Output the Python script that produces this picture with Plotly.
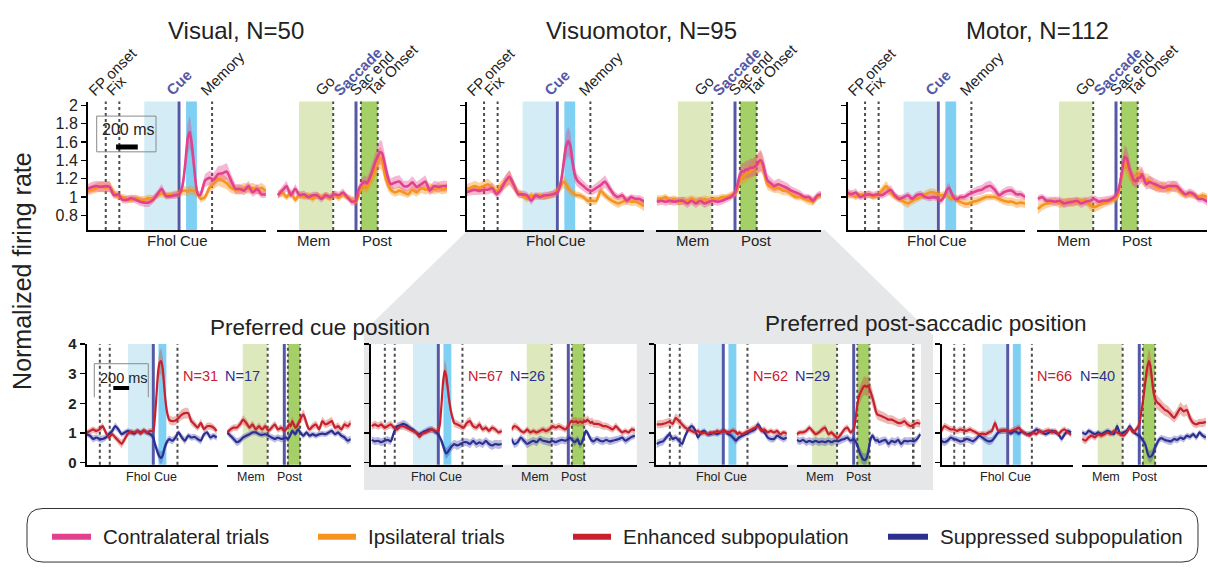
import plotly.graph_objects as go

W, H = 1208, 570
FONT = "Liberation Sans, Arial, Helvetica, sans-serif"

# ---------------- data ----------------
# time grids (ms) for cue-aligned and saccade-aligned windows
cue_t = list(range(-840, 0, 40)) + list(range(0, 201, 20)) + list(range(240, 801, 40))
sac_t = list(range(-720, 0, 40)) + list(range(0, 321, 20)) + list(range(360, 841, 40))

# --- top row: normalized firing rate, contralateral / ipsilateral ---
vis_cue_contra = [1.09, 1.11, 1.12, 1.11, 1.12, 1.11, 1.02, 1.03, 0.97, 0.97, 0.99, 0.97, 0.95, 0.94, 0.94, 0.97, 1.03, 1.09, 1.01, 1.01, 1.02,
                  1.03, 1.07, 1.18, 1.39, 1.64, 1.71, 1.56, 1.32, 1.10, 1.02, 1.03,
                  1.18, 1.21, 1.19, 1.25, 1.26, 1.28, 1.18, 1.09, 1.09, 1.07, 1.12, 1.05, 1.09, 1.03, 1.03]
vis_cue_ipsi = [1.07, 1.08, 1.10, 1.12, 1.10, 1.12, 1.05, 1.00, 1.00, 0.98, 0.97, 0.99, 0.97, 0.97, 0.99, 0.98, 1.02, 1.04, 1.02, 1.02, 1.03,
                1.04, 1.06, 1.07, 1.07, 1.06, 1.08, 1.07, 1.07, 1.05, 1.02, 0.98,
                1.00, 1.10, 1.15, 1.20, 1.18, 1.15, 1.10, 1.08, 1.08, 1.10, 1.09, 1.10, 1.08, 1.10, 1.07]
vis_sac_contra = [1.02, 1.07, 1.12, 1.02, 1.09, 1.02, 1.03, 1.00, 1.02, 1.02, 0.98, 1.02, 1.00, 1.03, 1.02, 1.05, 1.00, 0.95,
                  0.96, 1.07, 1.12, 1.15, 1.17, 1.15, 1.19, 1.25, 1.32, 1.39, 1.44, 1.49, 1.48, 1.39, 1.28, 1.19, 1.14,
                  1.16, 1.17, 1.12, 1.12, 1.16, 1.11, 1.14, 1.17, 1.07, 1.12, 1.11, 1.12, 1.12]
vis_sac_ipsi = [1.03, 1.05, 1.00, 1.05, 0.97, 1.03, 1.00, 1.02, 0.98, 1.02, 1.00, 1.02, 0.99, 1.03, 0.99, 1.03, 1.00, 0.97,
                0.95, 1.00, 1.08, 1.12, 1.12, 1.10, 1.15, 1.20, 1.25, 1.32, 1.38, 1.43, 1.40, 1.28, 1.18, 1.12, 1.08,
                1.05, 1.07, 1.05, 1.03, 1.08, 1.05, 1.10, 1.08, 1.10, 1.08, 1.10, 1.08, 1.10]

vm_cue_contra = [1.05, 1.07, 1.08, 1.07, 1.08, 1.08, 1.10, 1.03, 1.08, 1.17, 1.22, 1.13, 1.03, 1.03, 1.02, 0.96, 1.02, 1.00, 1.02, 1.02, 1.03,
                 1.05, 1.10, 1.21, 1.39, 1.55, 1.61, 1.56, 1.39, 1.25, 1.19, 1.16,
                 1.12, 1.08, 1.07, 1.10, 1.13, 1.17, 1.10, 1.03, 1.00, 1.02, 0.96, 1.00, 0.98, 0.98, 0.95]
vm_cue_ipsi = [1.09, 1.10, 1.12, 1.10, 1.12, 1.14, 1.10, 1.07, 1.12, 1.16, 1.21, 1.12, 1.05, 1.02, 0.98, 1.02, 1.00, 1.02, 1.00, 1.02, 1.03,
               1.07, 1.10, 1.14, 1.17, 1.14, 1.10, 1.07, 1.05, 1.03, 1.02, 1.02,
               1.00, 0.96, 0.96, 0.96, 1.07, 1.02, 0.98, 0.95, 0.93, 0.95, 0.96, 0.95, 0.95, 0.93, 0.90]
vm_sac_contra = [0.95, 0.96, 0.95, 0.96, 0.95, 0.96, 0.96, 0.93, 0.96, 0.93, 0.96, 0.93, 0.95, 0.96, 0.95, 0.96, 0.98, 1.00,
                 1.05, 1.12, 1.22, 1.28, 1.28, 1.30, 1.30, 1.32, 1.32, 1.33, 1.35, 1.39, 1.40, 1.35, 1.25, 1.18, 1.16,
                 1.12, 1.14, 1.12, 1.10, 1.07, 1.05, 1.03, 1.00, 1.00, 0.96, 1.02, 1.03, 1.05]
vm_sac_ipsi = [0.98, 0.98, 1.00, 0.96, 0.98, 0.95, 0.96, 0.96, 0.98, 0.96, 0.96, 0.98, 0.96, 0.98, 0.98, 1.00, 1.00, 1.02,
               1.03, 1.07, 1.17, 1.21, 1.22, 1.25, 1.26, 1.28, 1.30, 1.32, 1.35, 1.37, 1.39, 1.32, 1.21, 1.14, 1.12,
               1.10, 1.10, 1.07, 1.07, 1.03, 1.00, 1.00, 0.98, 0.96, 0.95, 1.00, 1.03, 1.05]

mot_cue_contra = [1.05, 1.03, 1.05, 1.00, 1.02, 1.03, 1.02, 1.03, 1.02, 1.05, 1.08, 1.02, 0.98, 1.00, 1.02, 0.98, 1.02, 1.03, 1.00, 0.99, 1.00,
                  0.98, 0.96, 0.98, 1.02, 1.08, 1.10, 1.05, 1.00, 0.98, 0.98, 1.00,
                  1.00, 1.03, 1.05, 1.07, 1.08, 1.11, 1.12, 1.08, 1.02, 1.05, 1.07, 1.07, 1.03, 1.03, 1.00]
mot_cue_ipsi = [1.02, 1.03, 1.00, 1.03, 1.02, 1.03, 1.00, 1.02, 1.07, 1.12, 1.05, 1.00, 0.98, 0.95, 0.93, 0.96, 0.98, 1.00, 1.03, 1.05, 1.05,
                1.03, 1.02, 1.02, 1.03, 1.02, 1.00, 0.98, 1.00, 0.99, 0.96, 0.95,
                0.93, 0.93, 0.95, 0.96, 0.98, 1.00, 1.00, 1.00, 0.98, 0.96, 0.95, 0.95, 0.93, 0.94, 0.93]
mot_sac_contra = [0.98, 1.00, 0.96, 0.96, 0.95, 0.96, 0.93, 0.94, 0.95, 0.96, 0.93, 0.95, 0.96, 0.98, 0.95, 0.96, 0.96, 0.98,
                  1.02, 1.07, 1.17, 1.32, 1.44, 1.42, 1.32, 1.25, 1.19, 1.17, 1.21, 1.21, 1.25, 1.19, 1.14, 1.16, 1.16,
                  1.14, 1.12, 1.10, 1.12, 1.12, 1.12, 1.07, 1.03, 1.05, 1.03, 0.98, 0.98, 0.95]
mot_sac_ipsi = [0.87, 0.91, 0.93, 0.94, 0.95, 0.93, 0.94, 0.95, 0.94, 0.95, 0.96, 0.96, 0.91, 0.89, 0.91, 0.93, 0.95, 0.96,
                0.98, 1.02, 1.14, 1.28, 1.39, 1.35, 1.28, 1.22, 1.19, 1.21, 1.24, 1.26, 1.22, 1.18, 1.19, 1.18, 1.16,
                1.12, 1.10, 1.12, 1.08, 1.12, 1.10, 1.05, 1.02, 1.03, 1.02, 1.00, 1.02, 1.00]

# --- bottom row: enhanced / suppressed subpopulations ---
b1_cue_enh = [1.02, 1.07, 1.12, 1.07, 1.12, 1.23, 1.02, 0.85, 0.96, 0.85, 0.74, 0.63, 0.80, 0.98, 1.05, 1.02, 1.07, 0.98, 1.09, 1.02, 1.07,
              1.07, 1.50, 2.27, 3.04, 3.37, 3.42, 3.15, 2.49, 1.95, 1.62, 1.45,
              1.40, 1.42, 1.51, 1.62, 1.67, 1.67, 1.40, 1.29, 1.18, 1.34, 1.13, 1.23, 1.23, 1.18, 1.07]
b1_cue_sup = [0.96, 0.91, 0.80, 0.85, 0.80, 0.80, 0.85, 0.96, 1.07, 1.23, 1.12, 0.96, 1.02, 1.07, 1.02, 0.98, 1.07, 1.02, 1.07, 1.02, 0.96,
              0.85, 0.63, 0.47, 0.31, 0.20, 0.16, 0.25, 0.47, 0.63, 0.74, 0.80,
              0.74, 0.85, 1.02, 0.85, 0.74, 0.91, 0.85, 0.87, 0.80, 0.74, 0.96, 1.02, 0.85, 0.91, 0.85]
b1_sac_enh = [1.02, 1.12, 1.18, 1.18, 1.29, 1.45, 1.34, 1.18, 1.29, 1.12, 1.23, 1.12, 1.23, 1.07, 1.18, 1.29, 1.12, 1.18,
              1.07, 1.12, 1.18, 1.29, 1.23, 1.40, 1.29, 1.18, 1.23, 1.34, 1.45, 1.56, 1.62, 1.51, 1.34, 1.18, 1.12,
              1.23, 1.29, 1.12, 1.40, 1.29, 1.34, 1.40, 1.18, 1.23, 1.12, 1.29, 1.23, 1.34]
b1_sac_sup = [1.02, 0.91, 0.80, 0.69, 0.74, 0.85, 0.91, 0.96, 1.02, 1.02, 0.96, 0.94, 0.96, 0.91, 0.85, 0.80, 0.85, 0.80,
              0.83, 0.85, 0.80, 0.85, 0.96, 1.07, 1.02, 0.96, 1.07, 1.12, 1.02, 0.96, 0.91, 0.96, 1.02, 0.96, 0.91,
              0.96, 0.91, 0.96, 0.98, 0.96, 1.02, 1.07, 0.96, 1.02, 0.91, 0.85, 0.74, 0.80]

b2_cue_enh = [1.23, 1.29, 1.23, 1.29, 1.18, 1.23, 1.29, 1.18, 1.12, 1.23, 1.23, 1.18, 1.12, 1.07, 1.02, 0.87, 0.98, 1.02, 1.07, 1.12, 1.07,
              1.07, 1.29, 1.95, 2.71, 3.09, 2.93, 2.49, 2.05, 1.73, 1.51, 1.34,
              1.29, 1.23, 1.18, 1.34, 1.40, 1.23, 1.18, 1.29, 1.12, 1.18, 1.07, 1.18, 1.12, 1.02, 1.07]
b2_cue_sup = [0.77, 0.72, 0.74, 0.69, 0.74, 0.77, 0.72, 1.02, 1.23, 1.26, 1.31, 1.26, 1.18, 1.12, 1.02, 0.96, 1.02, 1.07, 1.12, 1.12, 1.05,
              0.96, 0.85, 0.74, 0.58, 0.42, 0.31, 0.36, 0.44, 0.52, 0.58, 0.63,
              0.58, 0.63, 0.69, 0.69, 0.63, 0.74, 0.63, 0.69, 0.63, 0.74, 0.63, 0.58, 0.63, 0.61, 0.63]
b2_sac_enh = [1.12, 1.23, 1.18, 1.07, 1.02, 1.12, 1.02, 1.07, 1.02, 1.07, 1.12, 1.07, 1.12, 1.23, 1.18, 1.23, 1.18, 1.12,
              1.23, 1.34, 1.40, 1.38, 1.38, 1.40, 1.34, 1.38, 1.38, 1.34, 1.42, 1.38, 1.45, 1.40, 1.34, 1.38, 1.31,
              1.31, 1.29, 1.23, 1.23, 1.18, 1.12, 1.23, 1.12, 1.02, 1.07, 1.02, 1.12, 1.09]
b2_sac_sup = [0.80, 0.63, 0.69, 0.85, 0.74, 0.63, 0.69, 0.74, 0.69, 0.80, 0.74, 0.72, 0.69, 0.74, 0.69, 0.74, 0.77, 0.74,
              0.80, 0.85, 0.80, 0.74, 0.69, 0.74, 0.80, 0.63, 0.63, 0.74, 0.91, 1.07, 1.02, 0.91, 0.80, 0.74, 0.72,
              0.80, 0.74, 0.72, 0.77, 0.72, 0.74, 0.77, 0.80, 0.85, 0.74, 0.80, 0.87, 0.91]

b3_cue_enh = [1.29, 1.29, 1.31, 1.34, 1.38, 1.31, 1.51, 1.40, 1.29, 1.18, 1.12, 1.07, 1.02, 1.07, 0.98, 1.02, 0.96, 1.02, 0.98, 1.07, 1.02,
              1.07, 1.07, 1.02, 1.05, 1.02, 1.07, 1.09, 1.07, 1.04, 0.96, 1.02,
              0.96, 1.02, 1.07, 1.12, 1.18, 1.23, 1.07, 1.12, 1.02, 1.07, 1.02, 1.07, 0.96, 1.02, 0.98]
b3_cue_sup = [0.63, 0.69, 0.72, 0.85, 0.96, 0.80, 0.85, 0.74, 0.63, 0.91, 1.12, 1.23, 1.12, 0.85, 1.02, 1.07, 0.96, 0.96, 1.02, 0.96, 1.02,
              1.09, 1.07, 1.02, 0.96, 0.94, 0.91, 0.85, 0.80, 0.74, 0.80, 0.85,
              0.91, 0.96, 1.02, 1.07, 1.12, 1.29, 1.12, 1.02, 0.85, 0.80, 0.80, 0.91, 0.85, 0.80, 0.85]
b3_sac_enh = [0.96, 1.02, 1.02, 1.07, 1.18, 1.07, 0.96, 1.02, 1.12, 1.18, 0.96, 1.02, 0.91, 0.85, 0.96, 1.12, 1.18, 1.02,
              1.12, 1.40, 1.84, 2.16, 2.33, 2.44, 2.55, 2.60, 2.55, 2.60, 2.49, 2.33, 2.16, 1.95, 1.73, 1.62, 1.60,
              1.56, 1.51, 1.45, 1.45, 1.40, 1.34, 1.34, 1.40, 1.29, 1.23, 1.29, 1.34, 1.31]
b3_sac_sup = [0.77, 0.72, 0.77, 0.69, 0.74, 0.69, 0.74, 0.69, 0.72, 0.69, 0.74, 0.69, 0.74, 0.72, 0.77, 0.80, 0.85, 0.74,
              0.80, 0.74, 0.63, 0.47, 0.31, 0.20, 0.11, 0.09, 0.14, 0.31, 0.63, 0.85, 0.91, 0.80, 0.74, 0.77, 0.69,
              0.74, 0.77, 0.63, 0.74, 0.69, 0.77, 0.63, 0.74, 0.72, 0.74, 0.72, 0.80, 0.96]

b4_cue_enh = [1.07, 1.23, 1.18, 1.12, 1.12, 1.07, 1.12, 1.09, 1.07, 1.12, 1.07, 1.02, 0.96, 0.98, 0.96, 1.02, 1.07, 1.34, 1.07, 1.09, 1.07,
              1.07, 1.05, 1.07, 1.09, 1.11, 1.12, 1.16, 1.18, 1.12, 1.07, 1.02,
              0.96, 0.91, 1.02, 0.96, 1.07, 1.02, 1.07, 1.09, 1.02, 1.07, 0.96, 1.07, 1.12, 1.02, 0.94]
b4_cue_sup = [0.74, 0.69, 0.74, 0.85, 0.80, 0.77, 0.72, 0.74, 0.80, 0.77, 0.72, 0.80, 0.91, 0.85, 0.77, 0.72, 0.74, 0.87, 1.02, 1.07, 1.09,
              1.07, 1.02, 0.98, 1.02, 1.07, 1.05, 1.02, 0.98, 1.02, 1.05, 1.02,
              0.96, 0.98, 1.02, 1.12, 1.07, 1.02, 0.96, 1.02, 1.07, 1.02, 0.96, 0.80, 0.96, 1.07, 1.02]
b4_sac_enh = [0.80, 0.74, 0.85, 0.91, 0.85, 0.96, 0.91, 0.96, 1.02, 0.96, 1.07, 1.02, 0.96, 0.91, 1.02, 1.18, 1.02, 1.12,
              1.29, 1.62, 1.95, 2.38, 2.82, 3.20, 3.42, 3.25, 2.82, 2.38, 2.16, 2.05, 2.00, 1.95, 1.89, 1.84, 1.78,
              1.73, 1.62, 1.51, 1.67, 1.84, 1.73, 1.78, 1.51, 1.34, 1.29, 1.34, 1.34, 1.38]
b4_sac_sup = [1.02, 0.96, 1.07, 1.02, 0.96, 1.02, 0.96, 1.02, 1.07, 1.02, 0.96, 1.23, 0.96, 1.02, 1.07, 1.23, 1.07, 0.96,
              0.91, 0.85, 0.77, 0.69, 0.58, 0.36, 0.22, 0.20, 0.25, 0.36, 0.52, 0.63, 0.74, 0.80, 0.83, 0.80, 0.77,
              0.74, 0.72, 0.80, 0.77, 0.85, 0.80, 0.91, 0.87, 0.96, 0.85, 1.02, 0.91, 0.85]

# labels
top_titles = ["Visual, N=50", "Visuomotor, N=95", "Motor, N=112"]
bottom_titles = ["Preferred cue position", "Preferred post-saccadic position"]
n_enh = ["N=31", "N=67", "N=62", "N=66"]
n_sup = ["N=17", "N=26", "N=29", "N=40"]
legend_labels = ["Contralateral trials", "Ipsilateral trials", "Enhanced subpopulation", "Suppressed subpopulation"]
top_yticks = [0.8, 1, 1.2, 1.4, 1.6, 1.8, 2]
top_yticklabels = ["0.8", "1", "1.2", "1.4", "1.6", "1.8", "2"]
bot_yticks = [0, 1, 2, 3, 4]
bot_yticklabels = ["<b>0</b>", "<b>1</b>", "<b>2</b>", "<b>3</b>", "<b>4</b>"]
cue_labels = ["FP onset", "Fix", "Cue", "Memory"]
sac_labels = ["Go", "Saccade", "Sac end", "Tar Onset"]

# task events (ms)
FP_ONSET, FIX, CUE, MEMORY = -675, -550, 0, 305
FHOL_WIN, CUE_WIN = (-320, -20), (65, 165)
GO, SACCADE, SAC_END, TAR_ONSET = -210, 0, 45, 200
MEM_WIN = (-525, -215)
EXTRA_B3 = 752

# ---------------- styling ----------------
C_CONTRA, C_IPSI = "#e2418e", "#f7941d"
C_ENH, C_SUP = "#c8202f", "#2b3090"
B_CONTRA, B_IPSI = "rgba(226,65,142,0.38)", "rgba(247,148,29,0.42)"
B_ENH, B_SUP = "rgba(205,70,60,0.38)", "rgba(60,60,170,0.35)"
EVT = "#5558a6"
LBLUE, CBLUE = "#d3ecf6", "#7fd0f3"
LGREEN, PGREEN = "#dde9bd", "#a5cf67"
DOT = "#4d4d4d"
TXT = "#222222"

fig = go.Figure()
layout = {}
shapes = []
ann = []

TOP_S, BOT_S = 0.1085, 0.0792          # px per ms
TOP_Y = (95, 227)
BOT_Y = (344, 468)
top_cue_px = [(88, 266, 179), (467, 644, 557.3), (848, 1025, 938.3)]
top_sac_px = [(277, 447, 356), (656, 821, 735), (1037, 1207, 1116)]
bot_cue_px = [(86.7, 218.3, 153.3), (371, 503.3, 438.3), (656, 788.3, 723.3), (941.7, 1073.3, 1007.7)]
bot_sac_px = [(226.7, 350.7, 284.3), (511.7, 636.7, 568.3), (796.7, 921, 853.7), (1081.7, 1206.7, 1139.3)]


def refs(k):
    return ("x" if k == 1 else f"x{k}"), ("y" if k == 1 else f"y{k}")


def make_axes(k, geo, s, ypx, yrange, yline, ticktext=None, tickfont=None, tickvals=None):
    l, r, e = geo
    name = "" if k == 1 else str(k)
    layout["xaxis" + name] = dict(domain=[l / W, r / W], range=[(l - e) / s, (r - e) / s], anchor=refs(k)[1],
                                  showline=True, linecolor="black", linewidth=2, ticks="", showticklabels=False,
                                  showgrid=False, zeroline=False, fixedrange=True)
    ya = dict(domain=[1 - ypx[1] / H, 1 - ypx[0] / H], range=yrange, anchor=refs(k)[0], showgrid=False,
              zeroline=False, fixedrange=True, showline=yline, linecolor="black", linewidth=2)
    if yline:
        ya.update(ticks="outside", ticklen=5, tickwidth=1.5, tickcolor="black", tickvals=tickvals)
        if ticktext:
            ya.update(ticktext=ticktext, showticklabels=True, tickfont=tickfont)
        else:
            ya.update(showticklabels=False)
    else:
        ya.update(showticklabels=False, ticks="")
    layout["yaxis" + name] = ya


def rect(k, a, b, color):
    xr, yr = refs(k)
    shapes.append(dict(type="rect", xref=xr, yref=yr + " domain", x0=a, x1=b, y0=0, y1=1,
                       fillcolor=color, line=dict(width=0), layer="below"))


def vline(k, t, color, width, dash):
    xr, yr = refs(k)
    shapes.append(dict(type="line", xref=xr, yref=yr + " domain", x0=t, x1=t, y0=0, y1=1,
                       line=dict(color=color, width=width, dash=dash), layer="below"))


def cue_events(k):
    rect(k, FHOL_WIN[0], FHOL_WIN[1], LBLUE)
    rect(k, CUE_WIN[0], CUE_WIN[1], CBLUE)
    for t in (FP_ONSET, FIX, MEMORY):
        vline(k, t, DOT, 2, "dot")
    vline(k, CUE, EVT, 3, "solid")


def sac_events(k):
    rect(k, MEM_WIN[0], MEM_WIN[1], LGREEN)
    rect(k, SAC_END, TAR_ONSET, PGREEN)
    for t in (GO, SAC_END, TAR_ONSET):
        vline(k, t, DOT, 2, "dot")
    vline(k, SACCADE, EVT, 3, "solid")


def band(k, t, v, fill, base, frac):
    xr, yr = refs(k)
    up = [a + base + frac * abs(a - 1) for a in v]
    lo = [a - base - frac * abs(a - 1) for a in v]
    fig.add_trace(go.Scatter(x=t + t[::-1], y=up + lo[::-1], fill="toself", fillcolor=fill,
                             line=dict(width=0), mode="lines", hoverinfo="skip", showlegend=False,
                             xaxis=xr, yaxis=yr))


def curve(k, t, v, color, lw):
    xr, yr = refs(k)
    fig.add_trace(go.Scatter(x=t, y=v, mode="lines", line=dict(color=color, width=lw, shape="spline", smoothing=0.5),
                             hoverinfo="skip", showlegend=False, xaxis=xr, yaxis=yr))


def pair(k, t, v1, v2, c1, c2, b1, b2, base, frac, lw):
    band(k, t, v2, b2, base, frac)
    band(k, t, v1, b1, base, frac)
    curve(k, t, v2, c2, lw)
    curve(k, t, v1, c1, lw)


top_data = [(vis_cue_contra, vis_cue_ipsi, vis_sac_contra, vis_sac_ipsi),
            (vm_cue_contra, vm_cue_ipsi, vm_sac_contra, vm_sac_ipsi),
            (mot_cue_contra, mot_cue_ipsi, mot_sac_contra, mot_sac_ipsi)]
bot_data = [(b1_cue_enh, b1_cue_sup, b1_sac_enh, b1_sac_sup),
            (b2_cue_enh, b2_cue_sup, b2_sac_enh, b2_sac_sup),
            (b3_cue_enh, b3_cue_sup, b3_sac_enh, b3_sac_sup),
            (b4_cue_enh, b4_cue_sup, b4_sac_enh, b4_sac_sup)]

# ---------------- background gray trapezoid ----------------
def P(x, y):
    return f"{x / W:.5f},{1 - y / H:.5f}"

shapes.append(dict(type="path", xref="paper", yref="paper", layer="below",
                   path=f"M {P(468,227)} L {P(825,227)} L {P(933,335)} L {P(933,494)} L {P(364,494)} L {P(364,331)} Z",
                   fillcolor="#e6e7e9", line=dict(width=0)))
for (l, _, _), (_, r, _) in [(bot_cue_px[1], bot_sac_px[1]), (bot_cue_px[2], bot_sac_px[2])]:
    shapes.append(dict(type="rect", xref="paper", yref="paper", layer="below",
                       x0=l / W, x1=r / W, y0=1 - BOT_Y[1] / H, y1=1 - BOT_Y[0] / H,
                       fillcolor="white", line=dict(width=0)))

k = 0
top_cue_keys = []
top_sac_keys = []
# ---------------- top row ----------------
for i in range(3):
    cc, ci, sc, si = top_data[i]
    k += 1
    make_axes(k, top_cue_px[i], TOP_S, TOP_Y, [0.641, 2.042], True,
              ticktext=top_yticklabels if i == 0 else None, tickvals=top_yticks,
              tickfont=dict(size=16, color=TXT, family=FONT))
    cue_events(k)
    pair(k, cue_t, cc, ci, C_CONTRA, C_IPSI, B_CONTRA, B_IPSI, 0.035, 0.2, 2.6)
    top_cue_keys.append(k)
    k += 1
    make_axes(k, top_sac_px[i], TOP_S, TOP_Y, [0.641, 2.042], False)
    sac_events(k)
    pair(k, sac_t, sc, si, C_CONTRA, C_IPSI, B_CONTRA, B_IPSI, 0.035, 0.2, 2.6)
    top_sac_keys.append(k)

# ---------------- bottom row ----------------
bot_cue_keys = []
bot_sac_keys = []
for i in range(4):
    ce, cs, se, ss = bot_data[i]
    k += 1
    make_axes(k, bot_cue_px[i], BOT_S, BOT_Y, [-0.066, 4.0], True,
              ticktext=bot_yticklabels if i == 0 else None, tickvals=bot_yticks,
              tickfont=dict(size=15, color=TXT, family=FONT))
    cue_events(k)
    pair(k, cue_t, ce, cs, C_ENH, C_SUP, B_ENH, B_SUP, 0.09, 0.14, 2.2)
    bot_cue_keys.append(k)
    k += 1
    make_axes(k, bot_sac_px[i], BOT_S, BOT_Y, [-0.066, 4.0], False)
    sac_events(k)
    if i == 2:
        vline(k, EXTRA_B3, DOT, 2.5, "dot")
    pair(k, sac_t, se, ss, C_ENH, C_SUP, B_ENH, B_SUP, 0.09, 0.14, 2.2)
    bot_sac_keys.append(k)

# ---------------- annotations ----------------
def text(x, y, s, size, color=TXT, xanchor="center", yanchor="middle", xref="paper", yref="paper", angle=0, **kw):
    ann.append(dict(x=x, y=y, text=s, xref=xref, yref=yref, xanchor=xanchor, yanchor=yanchor, showarrow=False,
                    textangle=angle, font=dict(family=FONT, size=size, color=color), **kw))

# panel titles
for s, cx in zip(top_titles, [236, 641, 1037]):
    text(cx / W, 1 - 22 / H, s, 24)
text(320 / W, 1 - 327 / H, bottom_titles[0], 22.5)
text(925 / W, 1 - 323 / H, bottom_titles[1], 22.5)
text(22 / W, 1 - 269 / H, "Normalized firing rate", 25, angle=-90)

# rotated event labels (top row)
cue_label_ms = [-774, -608, -55, 258]
sac_label_ms = [-313, -147, 0, 157]
for kk in top_cue_keys:
    xr, yr = refs(kk)
    for s, xm in zip(cue_labels, cue_label_ms):
        col = EVT if s == "Cue" else TXT
        lab = f"<b>{s}</b>" if s == "Cue" else s
        text(xm, 1, lab, 15, color=col, xanchor="left", yanchor="bottom", xref=xr, yref=yr + " domain",
             angle=-45, xshift=-13, yshift=0)
for kk in top_sac_keys:
    xr, yr = refs(kk)
    for s, xm in zip(sac_labels, sac_label_ms):
        col = EVT if s == "Saccade" else TXT
        lab = f"<b>{s}</b>" if s == "Saccade" else s
        text(xm, 1, lab, 15, color=col, xanchor="left", yanchor="bottom", xref=xr, yref=yr + " domain",
             angle=-45, xshift=-13, yshift=0)

# epoch labels under axes
for kk in top_cue_keys:
    xr, _ = refs(kk)
    text(-157, 1 - 238 / H, "Fhol", 15, xref=xr)
    text(134, 1 - 238 / H, "Cue", 15, xref=xr)
for kk in top_sac_keys:
    xr, _ = refs(kk)
    text(-396, 1 - 238 / H, "Mem", 15, xref=xr)
    text(194, 1 - 238 / H, "Post", 15, xref=xr)
for kk in bot_cue_keys:
    xr, _ = refs(kk)
    text(-197, 1 - 481 / H, "Fhol", 12.5, xref=xr)
    text(155, 1 - 481 / H, "Cue", 12.5, xref=xr)
for kk in bot_sac_keys:
    xr, _ = refs(kk)
    text(-420, 1 - 481 / H, "Mem", 12.5, xref=xr)
    text(72, 1 - 481 / H, "Post", 12.5, xref=xr)

# N labels
for s1, s2, c1, c2 in zip(n_enh, n_sup, [200, 485, 770, 1054], [242, 527, 812, 1097]):
    text(c1 / W, 1 - 377 / H, s1, 14.5, color=C_ENH)
    text(c2 / W, 1 - 377 / H, s2, 14.5, color=C_SUP)

# scale bars
shapes.append(dict(type="rect", xref="paper", yref="paper", x0=96.7 / W, x1=156 / W, y0=1 - 146.7 / H, y1=1 - 110 / H,
                   line=dict(color="#8a8a8a", width=1)))
text(128 / W, 1 - 124 / H, "200 ms", 16)
shapes.append(dict(type="line", xref="x", yref="paper", x0=-580, x1=-380, y0=1 - 141.7 / H, y1=1 - 141.7 / H,
                   line=dict(color="black", width=5)))
bxr, _ = refs(bot_cue_keys[0])
shapes.append(dict(type="path", xref="paper", yref="paper",
                   path=f"M {P(94.3,398.7)} L {P(94.3,364.3)} L {P(148.3,364.3)} L {P(148.3,398.7)}",
                   line=dict(color="#8a8a8a", width=1)))
text(124 / W, 1 - 379 / H, "200 ms", 14.5)
shapes.append(dict(type="line", xref=bxr, yref="paper", x0=-505, x1=-305, y0=1 - 389.3 / H, y1=1 - 389.3 / H,
                   line=dict(color="black", width=4)))

# legend box
L, R, T, B, rad = 27, 1198, 513, 568, 16
legend_path = (f"M {P(L+rad,T)} L {P(R-rad,T)} Q {P(R,T)} {P(R,T+rad)} L {P(R,B-rad)} Q {P(R,B)} {P(R-rad,B)} "
               f"L {P(L+rad,B)} Q {P(L,B)} {P(L,B-rad)} L {P(L,T+rad)} Q {P(L,T)} {P(L+rad,T)} Z")
shapes.append(dict(type="path", xref="paper", yref="paper", path=legend_path, line=dict(color="#333333", width=1)))
for lab, col, x0, x1, tx in zip(legend_labels, [C_CONTRA, C_IPSI, C_ENH, C_SUP],
                                [52, 318, 573, 888], [91, 356, 611, 928], [101, 366, 621, 938]):
    shapes.append(dict(type="line", xref="paper", yref="paper", x0=x0 / W, x1=x1 / W,
                       y0=1 - 542 / H, y1=1 - 542 / H, line=dict(color=col, width=6)))
    text(tx / W, 1 - 542 / H, lab, 20.5, xanchor="left")

fig.update_layout(width=W, height=H, margin=dict(l=0, r=0, t=0, b=0), autosize=False,
                  paper_bgcolor="white", plot_bgcolor="white", showlegend=False,
                  font=dict(family=FONT, color=TXT), shapes=shapes, annotations=ann, **layout)
fig.write_html("out.html", config={"displayModeBar": False, "staticPlot": True},
               post_script="document.body.style.margin='0';document.body.style.padding='0';"
                           "document.documentElement.style.overflow='hidden';")
